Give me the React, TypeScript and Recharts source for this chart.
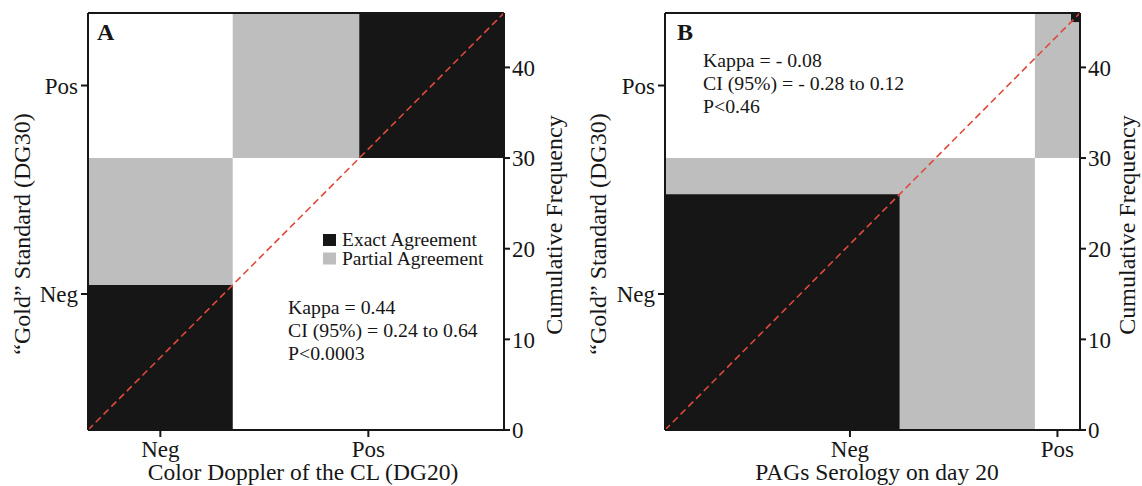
import React from "react";
import { ComposedChart, Line, XAxis, YAxis, ReferenceArea, ReferenceLine } from "recharts";

const categories = ["Neg", "Pos"];
// rows = "Gold" standard (DG30), columns = test being compared
const tableA = [
  [16, 14],
  [0, 16],
];
const tableB = [
  [26, 4],
  [15, 1],
];
const freqTicks = [0, 10, 20, 30, 40];
const statsA = ["Kappa = 0.44", "CI (95%) = 0.24 to 0.64", "P<0.0003"];
const statsB = ["Kappa = - 0.08", "CI (95%) = - 0.28 to 0.12", "P<0.46"];
const legendItems = ["Exact Agreement", "Partial Agreement"];

const SERIF = "'Liberation Serif', 'Times New Roman', serif";
const INK = "#161616";
const EXACT = "#161616";
const PARTIAL = "#bebebe";
const RED = "#dc4a3c";

// Bangdiwala agreement chart geometry from a contingency table
const agreement = (table: number[][]) => {
  const rowTot = table.map((r) => r.reduce((a, b) => a + b, 0));
  const colTot = table[0].map((_, j) => table.reduce((a, r) => a + r[j], 0));
  const n = rowTot.reduce((a, b) => a + b, 0);
  const cum = (arr: number[]) => arr.reduce((acc, v) => [...acc, acc[acc.length - 1] + v], [0]);
  const cx = cum(colTot);
  const cy = cum(rowTot);
  const partial = categories.map((_, i) => ({ x1: cx[i], x2: cx[i + 1], y1: cy[i], y2: cy[i + 1] }));
  const exact = categories.map((_, i) => {
    let xs = cx[i];
    let ys = cy[i];
    for (let j = 0; j < i; j++) {
      xs += table[j][i];
      ys += table[i][j];
    }
    return { x1: xs, x2: xs + table[i][i], y1: ys, y2: ys + table[i][i] };
  });
  const xTicks = categories.map((_, i) => (cx[i] + cx[i + 1]) / 2);
  const yTicks = categories.map((_, i) => (cy[i] + cy[i + 1]) / 2);
  return { n, partial, exact, xTicks, yTicks, diag: [{ x: 0, y: 0 }, { x: n, y: n }] };
};

const axisLine = { stroke: INK, strokeWidth: 2 };
const tickStyle = { fill: INK, fontSize: 23, fontFamily: SERIF };

type PanelProps = {
  table: number[][];
  letter: string;
  xTitle: string;
  stats: string[];
  statsX: number;
  statsY: number;
  legend: boolean;
  leftW: number;
  rightW: number;
  leftTitleX: number;
  rightTitleX: number;
  xTitleX: number;
  letterX: number;
};

const Panel = (p: PanelProps) => {
  const g = agreement(p.table);
  const catName = (ticks: number[]) => (v: number) => categories[ticks.indexOf(v)] ?? "";
  return (
    <ComposedChart width={571} height={486} data={g.diag} margin={{ top: 13, right: 0, bottom: 0, left: 0 }}>
      <XAxis
        dataKey="x"
        type="number"
        domain={[0, g.n]}
        ticks={g.xTicks}
        interval={0}
        tickFormatter={catName(g.xTicks)}
        height={56}
        axisLine={axisLine}
        tickLine={axisLine}
        tickSize={7}
        tickMargin={4}
        tick={tickStyle}
      />
      <YAxis
        yAxisId="cat"
        type="number"
        domain={[0, g.n]}
        ticks={g.yTicks}
        interval={0}
        tickFormatter={catName(g.yTicks)}
        width={p.leftW}
        axisLine={axisLine}
        tickLine={axisLine}
        tickSize={7}
        tickMargin={3}
        tick={tickStyle}
      />
      <YAxis
        yAxisId="freq"
        orientation="right"
        type="number"
        domain={[0, g.n]}
        ticks={freqTicks}
        interval={0}
        width={p.rightW}
        axisLine={axisLine}
        tickLine={axisLine}
        tickSize={6}
        tick={tickStyle}
      />
      {g.partial.map((r, i) => (
        <ReferenceArea key={"p" + i} yAxisId="cat" {...r} fill={PARTIAL} fillOpacity={1} stroke="none" />
      ))}
      {g.exact.map((r, i) => (
        <ReferenceArea key={"e" + i} yAxisId="cat" {...r} fill={EXACT} fillOpacity={1} stroke="none" />
      ))}
      <ReferenceLine yAxisId="cat" y={g.n} stroke={INK} strokeWidth={2} />
      {/* the cumulative frequency scale shares the diagonal; drawn without stroke */}
      <Line
        yAxisId="freq"
        dataKey="y"
        type="linear"
        stroke="none"
        dot={false}
        activeDot={false}
        isAnimationActive={false}
      />
      <Line
        yAxisId="cat"
        dataKey="y"
        type="linear"
        stroke={RED}
        strokeWidth={1.6}
        strokeDasharray="7 4"
        dot={false}
        isAnimationActive={false}
      />
      <g fontFamily={SERIF} fill={INK}>
        <text x={p.letterX} y={40} fontSize={24} fontWeight="bold">
          {p.letter}
        </text>
        <text
          x={p.leftTitleX}
          y={234}
          fontSize={24}
          textAnchor="middle"
          dominantBaseline="central"
          transform={`rotate(-90 ${p.leftTitleX} 234)`}
        >
          “Gold” Standard (DG30)
        </text>
        <text
          x={p.rightTitleX}
          y={225}
          fontSize={24}
          textAnchor="middle"
          dominantBaseline="central"
          transform={`rotate(-90 ${p.rightTitleX} 225)`}
        >
          Cumulative Frequency
        </text>
        <text x={p.xTitleX} y={480} fontSize={23.5} textAnchor="middle">
          {p.xTitle}
        </text>
        {p.stats.map((s, i) => (
          <text key={s} x={p.statsX} y={p.statsY + i * 23} fontSize={19.8}>
            {s}
          </text>
        ))}
        {p.legend &&
          legendItems.map((name, i) => (
            <g key={name}>
              <rect x={323} y={234 + i * 18.5} width={13} height={12} fill={i === 0 ? EXACT : PARTIAL} />
              <text x={342} y={246 + i * 18.5} fontSize={19.5}>
                {name}
              </text>
            </g>
          ))}
      </g>
    </ComposedChart>
  );
};

export default function App() {
  return (
    <div style={{ position: "absolute", left: 0, top: 0, width: 1142, height: 486, background: "#fff", display: "flex" }}>
      <Panel
        table={tableA}
        letter="A"
        xTitle="Color Doppler of the CL (DG20)"
        stats={statsA}
        statsX={288}
        statsY={314}
        legend
        leftW={88}
        rightW={67}
        leftTitleX={22}
        rightTitleX={554}
        xTitleX={303}
        letterX={97}
      />
      <Panel
        table={tableB}
        letter="B"
        xTitle="PAGs Serology on day 20"
        stats={statsB}
        statsX={132}
        statsY={67}
        legend={false}
        leftW={94}
        rightW={62}
        leftTitleX={27}
        rightTitleX={556}
        xTitleX={306}
        letterX={106}
      />
    </div>
  );
}
